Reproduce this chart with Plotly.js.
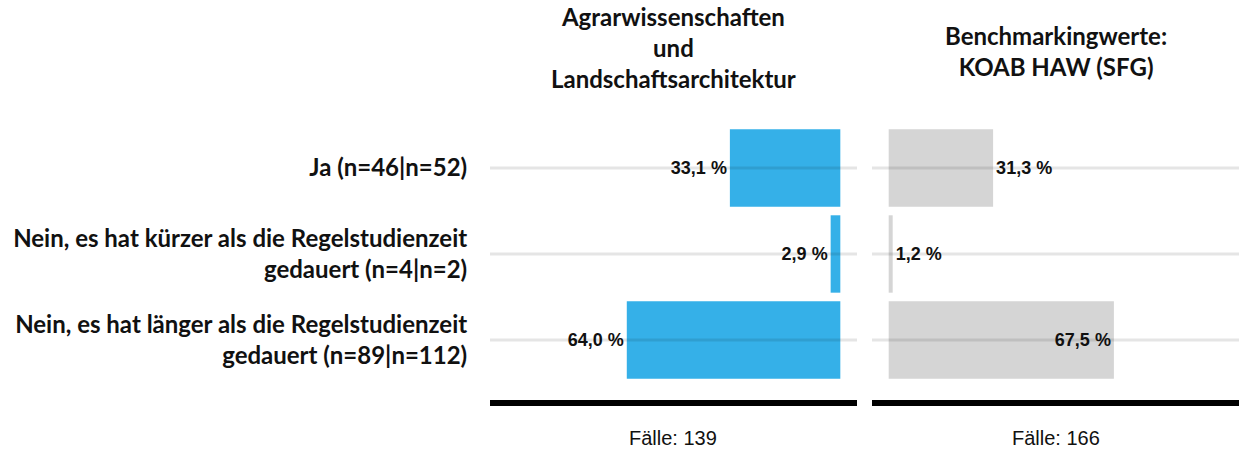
<!DOCTYPE html>
<html>
<head>
<meta charset="utf-8">
<script src="https://cdn.plot.ly/plotly-3.0.1.min.js"></script>
<style>html,body{margin:0;padding:0;background:#fff;}#chart{width:1245px;height:452px;}</style>
</head>
<body>
<div id="chart"></div>
<script>
const categories = [
  "Ja (n=46|n=52)",
  "Nein, es hat kürzer als die Regelstudienzeit<br>gedauert (n=4|n=2)",
  "Nein, es hat länger als die Regelstudienzeit<br>gedauert (n=89|n=112)"
];
const valuesFach = [33.1, 2.9, 64.0];
const valuesBench = [31.3, 1.2, 67.5];
const panelTitles = ["Agrarwissenschaften<br>und<br>Landschaftsarchitektur", "Benchmarkingwerte:<br>KOAB HAW (SFG)"];
const caseLabels = ["Fälle: 139", "Fälle: 166"];

const fmt = v => v.toFixed(1).replace('.', ',') + ' %';
const labelFont = {family: "Liberation Sans, Arial, sans-serif", size: 18, color: "#111", weight: 'bold'};
const titleFont = {family: "Lato, Open Sans, sans-serif", size: 24, color: "#111", weight: 'bold'};

const W = 1245, H = 452;
const xd1 = [490 / W, 857 / W];
const xd2 = [872 / W, 1239 / W];
const yd = [1 - 400 / H, 1 - 125 / H];

const traces = [
  {
    type: 'bar', orientation: 'h', x: valuesFach, y: categories, xaxis: 'x', yaxis: 'y',
    marker: {color: '#35b0e8'}, width: 0.9,
    text: valuesFach.map(fmt), textposition: ['outside', 'outside', 'outside'],
    textfont: labelFont, outsidetextfont: labelFont, insidetextfont: labelFont,
    cliponaxis: false, hoverinfo: 'skip', showlegend: false
  },
  {
    type: 'bar', orientation: 'h', x: valuesBench, y: categories, xaxis: 'x2', yaxis: 'y2',
    marker: {color: '#d5d5d5'}, width: 0.9,
    text: valuesBench.map(fmt), textposition: ['outside', 'outside', 'inside'],
    insidetextanchor: 'end',
    textfont: labelFont, outsidetextfont: labelFont, insidetextfont: labelFont,
    cliponaxis: false, hoverinfo: 'skip', showlegend: false
  }
];

const shapes = [];
categories.forEach(c => {
  shapes.push({type: 'line', xref: 'x domain', yref: 'y', x0: 0, x1: 1, y0: c, y1: c,
    line: {color: 'rgba(0,0,0,0.1)', width: 3}, layer: 'above'});
  shapes.push({type: 'line', xref: 'x2 domain', yref: 'y2', x0: 0, x1: 1, y0: c, y1: c,
    line: {color: 'rgba(0,0,0,0.1)', width: 3}, layer: 'above'});
});

const caseFont = {family: "Liberation Sans, Arial, sans-serif", size: 20, color: '#111'};
const annotations = [
  {text: panelTitles[0], x: (xd1[0] + xd1[1]) / 2, y: 1 - 48 / H, xref: 'paper', yref: 'paper',
    xanchor: 'center', yanchor: 'middle', showarrow: false, font: titleFont},
  {text: panelTitles[1], x: (xd2[0] + xd2[1]) / 2, y: 1 - 51 / H, xref: 'paper', yref: 'paper',
    xanchor: 'center', yanchor: 'middle', showarrow: false, font: titleFont},
  {text: caseLabels[0], x: (xd1[0] + xd1[1]) / 2, y: 1 - 438 / H, xref: 'paper', yref: 'paper',
    xanchor: 'center', yanchor: 'middle', showarrow: false, font: caseFont},
  {text: caseLabels[1], x: (xd2[0] + xd2[1]) / 2, y: 1 - 438 / H, xref: 'paper', yref: 'paper',
    xanchor: 'center', yanchor: 'middle', showarrow: false, font: caseFont}
];

const axisX = {showgrid: false, zeroline: false, showticklabels: false, ticks: '',
  showline: true, linecolor: '#000', linewidth: 6, fixedrange: true};

const layout = {
  width: W, height: H,
  margin: {l: 0, r: 0, t: 0, b: 0},
  paper_bgcolor: '#fff', plot_bgcolor: 'rgba(0,0,0,0)',
  xaxis: Object.assign({}, axisX, {domain: xd1, range: [105, -5], anchor: 'y'}),
  xaxis2: Object.assign({}, axisX, {domain: xd2, range: [-5, 105], anchor: 'y2'}),
  yaxis: {domain: yd, type: 'category', categoryorder: 'array', categoryarray: categories,
    range: [2.698, -0.5], showgrid: false, zeroline: false, showline: false,
    ticks: 'outside', ticklen: 17, tickcolor: 'rgba(0,0,0,0)', anchor: 'x',
    tickfont: titleFont, fixedrange: true},
  yaxis2: {domain: yd, type: 'category', categoryorder: 'array', categoryarray: categories,
    range: [2.698, -0.5], showgrid: false, zeroline: false, showline: false,
    showticklabels: false, ticks: '', anchor: 'x2', fixedrange: true},
  shapes: shapes,
  annotations: annotations,
  bargap: 0.1
};

Plotly.newPlot('chart', traces, layout, {displayModeBar: false, staticPlot: true});
</script>
</body>
</html>
